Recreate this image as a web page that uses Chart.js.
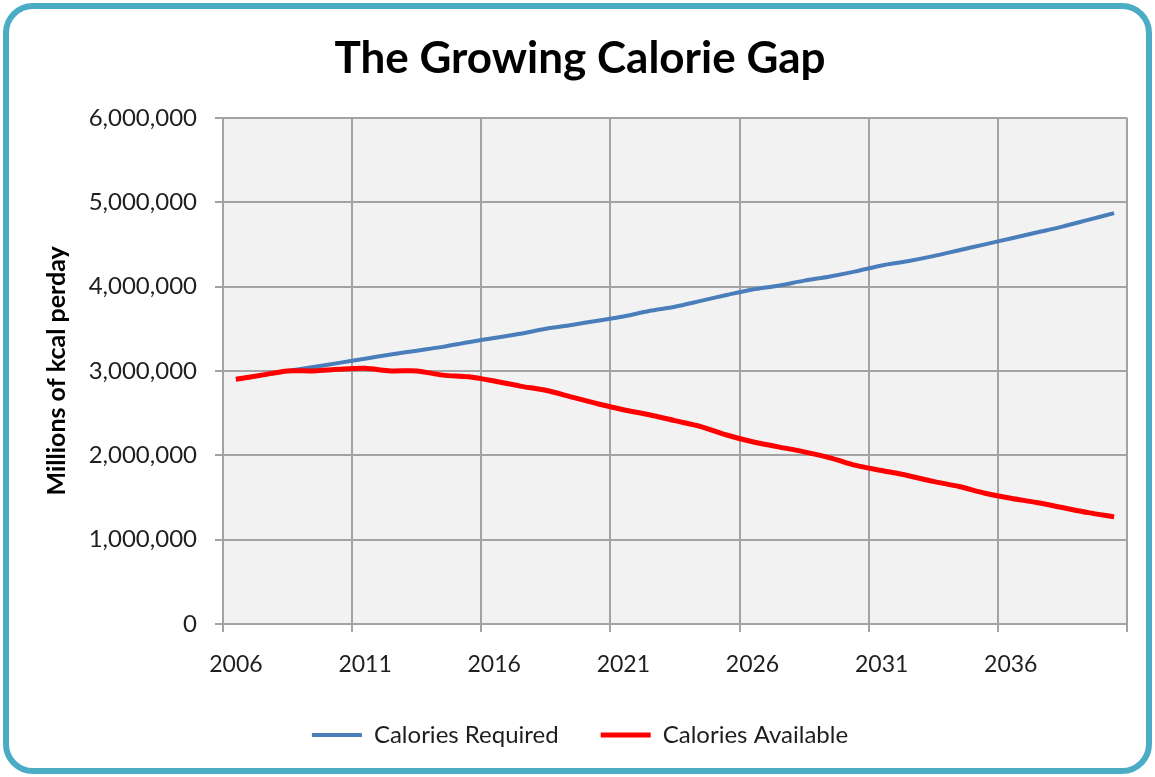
<!DOCTYPE html>
<html>
<head>
<meta charset="utf-8">
<title>The Growing Calorie Gap</title>
<script src="https://cdn.jsdelivr.net/npm/chart.js@4.4.1/dist/chart.umd.min.js"></script>
<style>
  html, body { margin: 0; padding: 0; background: #fff; }
  #frame {
    position: absolute; left: 3px; top: 3px; width: 1149px; height: 771px;
    box-sizing: border-box; border: 6px solid #4bacc6; border-radius: 30px;
  }
  #wrap { position: absolute; left: 0; top: 0; width: 1155px; height: 777px; }
</style>
</head>
<body>
<div id="frame"></div>
<div id="wrap"><canvas id="gapChart" width="1155" height="777"></canvas></div>
<script>
const years = ['2006', '2007', '2008', '2009', '2010', '2011', '2012', '2013', '2014', '2015',
    '2016', '2017', '2018', '2019', '2020', '2021', '2022', '2023', '2024', '2025',
    '2026', '2027', '2028', '2029', '2030', '2031', '2032', '2033', '2034', '2035',
    '2036', '2037', '2038', '2039', '2040'];

// kcal per day
const caloriesRequired = [2900000, 2950000, 3000000, 3045000, 3095000, 3145000, 3195000, 3240000, 3285000, 3340000,
    3390000, 3440000, 3500000, 3545000, 3595000, 3645000, 3710000, 3760000, 3830000, 3900000,
    3965000, 4010000, 4070000, 4120000, 4180000, 4250000, 4300000, 4360000, 4430000, 4500000,
    4570000, 4640000, 4710000, 4790000, 4870000];

const caloriesAvailable = [2900000, 2950000, 3000000, 3000000, 3020000, 3030000, 3000000, 3000000, 2950000, 2930000,
    2880000, 2820000, 2770000, 2690000, 2610000, 2540000, 2480000, 2410000, 2340000, 2240000,
    2160000, 2100000, 2040000, 1970000, 1880000, 1820000, 1760000, 1690000, 1630000, 1550000,
    1490000, 1440000, 1380000, 1320000, 1270000];

const yTicks = [0, 1000000, 2000000, 3000000, 4000000, 5000000, 6000000];

const gridGray = '#a3a3a3';
const textColor = '#1e1e1e';
const fontFamily = 'Lato, "Open Sans", sans-serif';

// grey plot background like the spreadsheet chart
const plotBackground = {
    id: 'plotBackground',
    beforeDraw(chart) {
        const { ctx, chartArea } = chart;
        ctx.save();
        ctx.fillStyle = '#f2f2f2';
        ctx.fillRect(chartArea.left, chartArea.top, chartArea.right - chartArea.left, chartArea.bottom - chartArea.top);
        ctx.restore();
    }
};

const ctx = document.getElementById('gapChart').getContext('2d');
const gapChart = new Chart(ctx, {
    type: 'line',
    data: {
        labels: years,
        datasets: [
            {
                label: 'Calories Required',
                data: caloriesRequired,
                borderColor: '#4a7ebb',
                backgroundColor: '#4a7ebb',
                borderWidth: 4,
                tension: 0.3,
                pointRadius: 0,
                fill: false,
                order: 2
            },
            {
                label: 'Calories Available',
                data: caloriesAvailable,
                borderColor: '#ff0000',
                backgroundColor: '#ff0000',
                borderWidth: 5,
                tension: 0.3,
                pointRadius: 0,
                fill: false,
                order: 1 // red sits on top where the lines meet
            }
        ]
    },
    options: {
        responsive: false,
        animation: false,
        layout: { padding: { top: 10, right: 28, bottom: 20, left: 33 } },
        scales: {
            x: {
                offset: true,
                grid: {
                    offset: true,
                    lineWidth: 2,
                    tickLength: 8,
                    color: (c) => (c.type !== 'tick' || c.index % 5 === 0) ? gridGray : 'rgba(0,0,0,0)'
                },
                border: { color: gridGray, width: 2 },
                ticks: {
                    autoSkip: false,
                    maxRotation: 0,
                    padding: 19,
                    color: textColor,
                    font: { family: fontFamily, size: 23 },
                    callback: (v, i) => i % 5 === 0 ? years[i] : ''
                },
                afterFit: (scale) => { scale.height = 57; }
            },
            y: {
                min: 0,
                max: 6000000,
                afterBuildTicks: (scale) => { scale.ticks = yTicks.map(v => ({ value: v })); },
                grid: { lineWidth: 2, tickLength: 8, color: gridGray },
                border: { color: gridGray, width: 2 },
                ticks: {
                    padding: 18,
                    color: textColor,
                    font: { family: fontFamily, size: 24 },
                    callback: (v) => Number(v).toLocaleString('en-US')
                },
                title: {
                    display: true,
                    text: 'Millions of kcal perday',
                    color: '#000',
                    padding: { top: 9, bottom: 0 },
                    font: { family: fontFamily, size: 25, weight: 'bold' }
                },
                afterFit: (scale) => { scale.width = 190; }
            }
        },
        plugins: {
            title: {
                display: true,
                text: 'The Growing Calorie Gap',
                color: '#000',
                padding: { top: 22, bottom: 33 },
                font: { family: fontFamily, size: 44, weight: 'bold' }
            },
            legend: {
                position: 'bottom',
                labels: {
                    usePointStyle: true,
                    pointStyle: 'line',
                    pointStyleWidth: 50,
                    padding: 42,
                    color: textColor,
                    font: { family: fontFamily, size: 24 },
                    sort: (a, b) => a.datasetIndex - b.datasetIndex
                }
            },
            tooltip: { enabled: false }
        }
    },
    plugins: [plotBackground]
});
</script>
</body>
</html>
